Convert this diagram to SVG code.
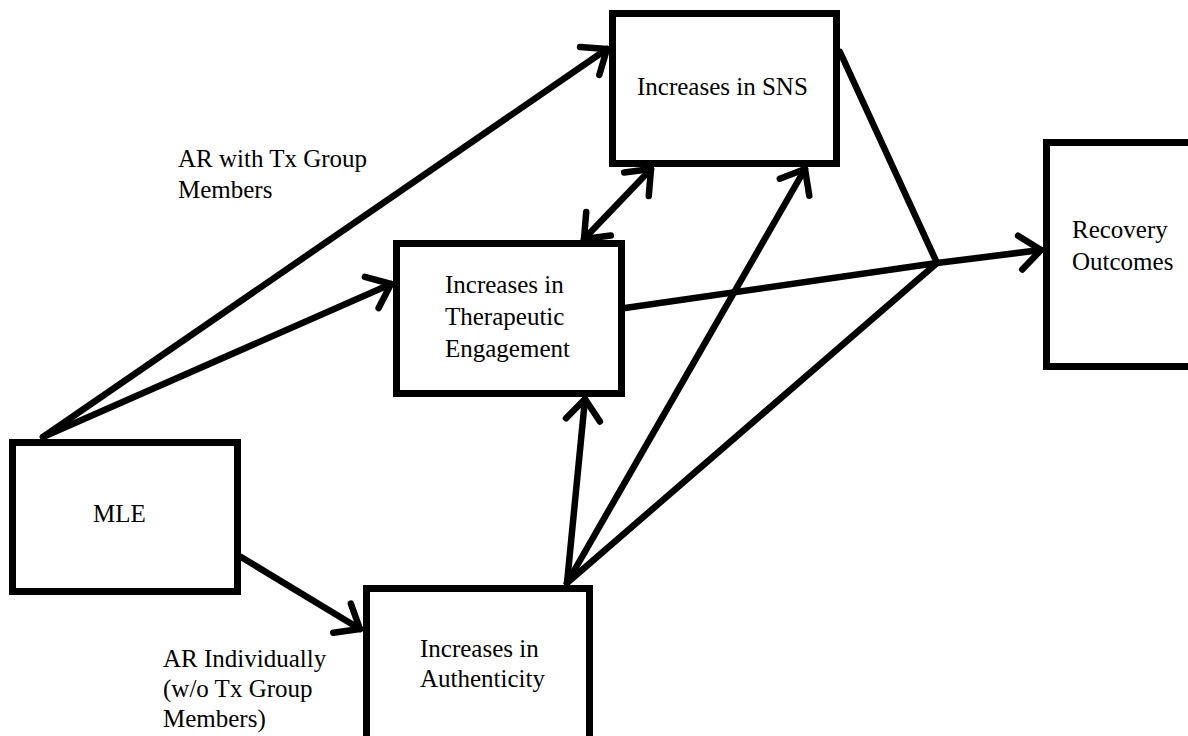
<svg xmlns="http://www.w3.org/2000/svg" width="1188" height="736" viewBox="0 0 1188 736">
<style>
.box{fill:#fff;stroke:#000;stroke-width:7}
.t{font-family:"Liberation Serif","Times New Roman",Times,serif;font-size:25px;fill:#000}
.c{fill:none;stroke:#000;stroke-width:6.5;stroke-linecap:round;stroke-linejoin:round}
</style>
<defs>
<marker id="ah" markerUnits="userSpaceOnUse" markerWidth="50" markerHeight="50" viewBox="-30 -25 50 50" refX="0" refY="0" orient="auto-start-reverse">
<path d="M-21,-17 L0,0 L-21,17" fill="none" stroke="#000" stroke-width="6.5" stroke-linecap="round" stroke-linejoin="round"/>
</marker>
</defs>
<rect width="1188" height="736" fill="#fff"/>
<g id="connectors">
<path class="c" d="M43,437 L607,49" marker-end="url(#ah)"/>
<path class="c" d="M43,437 L391,284" marker-end="url(#ah)"/>
<path class="c" d="M241,557 L360,629" marker-end="url(#ah)"/>
<path class="c" d="M584,239 L651,169" marker-start="url(#ah)" marker-end="url(#ah)"/>
<path class="c" d="M567,583 L585,399" marker-end="url(#ah)"/>
<path class="c" d="M567,583 L805,169" marker-end="url(#ah)"/>
<path class="c" d="M567,583 L937,263"/>
<path class="c" d="M840,52 L937,263"/>
<path class="c" d="M625,308 L937,263"/>
<path class="c" d="M937,263 L1041,250" marker-end="url(#ah)"/>
<text class="t" x="178" y="167">AR with Tx Group</text>
<text class="t" x="178" y="198">Members</text>
<text class="t" x="163" y="667">AR Individually</text>
<text class="t" x="163" y="697">(w/o Tx Group</text>
<text class="t" x="163" y="727">Members)</text>
</g>
<g id="node-sns">
<rect class="box" x="612.5" y="13.5" width="224" height="150"/>
<text class="t" x="637" y="95">Increases in SNS</text>
</g>
<g id="node-therapeutic">
<rect class="box" x="396.5" y="243.5" width="225" height="150"/>
<text class="t" x="445" y="293">Increases in</text>
<text class="t" x="445" y="325">Therapeutic</text>
<text class="t" x="445" y="357">Engagement</text>
</g>
<g id="node-recovery">
<rect class="box" x="1046.5" y="142.5" width="200" height="224"/>
<text class="t" x="1072" y="238">Recovery</text>
<text class="t" x="1072" y="270">Outcomes</text>
</g>
<g id="node-mle">
<rect class="box" x="12.5" y="442.5" width="225" height="149"/>
<text class="t" x="93" y="522">MLE</text>
</g>
<g id="node-authenticity">
<rect class="box" x="366.5" y="588.5" width="223" height="170"/>
<text class="t" x="420" y="657">Increases in</text>
<text class="t" x="420" y="687">Authenticity</text>
</g>
</svg>
